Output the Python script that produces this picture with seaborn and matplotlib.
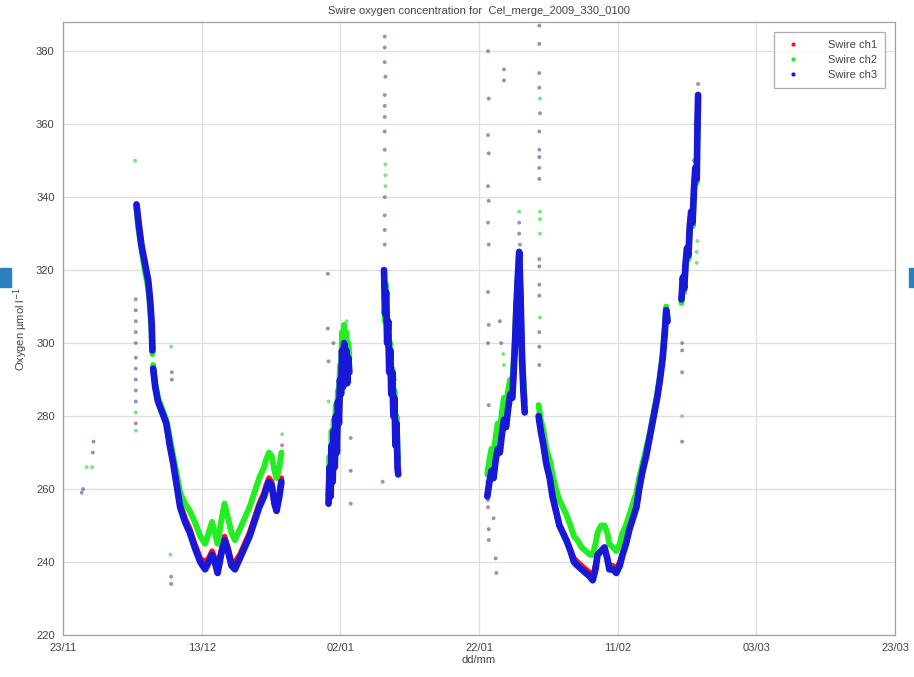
import matplotlib
matplotlib.use('Agg')
import matplotlib.pyplot as plt
from matplotlib.lines import Line2D
from matplotlib.patches import Rectangle
import seaborn as sns
import pandas as pd

# ---------------- data (days since 23/11) ----------------
channels = ['Swire ch1', 'Swire ch2', 'Swire ch3']
colors = ['#ff1010', '#22ee22', '#1818d8']
tick_days = [0, 20, 40, 60, 80, 100, 120]
tick_labels = ['23/11', '13/12', '02/01', '22/01', '11/02', '03/03', '23/03']
y_ticks = [220, 240, 260, 280, 300, 320, 340, 360, 380]

A1_days = [10.6, 10.9, 11.3, 11.8, 12.3, 12.6, 12.8, 12.9]
A1_ch1 = [338, 333, 327, 322, 317, 311, 305, 298]
A1_ch2 = [337, 331, 326, 320, 315, 309, 303, 297]
A1_ch3 = [338, 333, 327, 322, 317, 311, 305, 298]

A2_days = [13.0, 13.3, 13.7, 14.3, 14.9, 15.4, 15.9, 16.4, 16.9, 17.6, 18.3, 19.0,
           19.8, 20.5, 21.0, 21.5, 21.9, 22.3, 22.8, 23.3, 23.8, 24.3, 24.8, 25.5,
           26.2, 26.9, 27.6, 28.3, 29.0, 29.3, 29.7, 30.1, 30.5, 30.8, 31.2, 31.5]
A2_ch1 = [293, 288, 284, 281, 278, 272, 267, 261, 256, 252, 249, 245,
          241, 240, 241, 243, 241, 239, 243, 247, 244, 240, 240, 242,
          245, 248, 252, 256, 259, 261, 263, 262, 257, 255, 259, 263]
A2_ch2 = [294, 289, 285, 282, 279, 274, 269, 264, 259, 256, 254, 251,
          247, 245, 248, 251, 248, 245, 251, 256, 252, 248, 246, 249,
          252, 255, 259, 263, 266, 268, 270, 269, 265, 263, 266, 270]
A2_ch3 = [293, 288, 284, 281, 278, 272, 267, 261, 255, 251, 248, 244,
          240, 238, 240, 242, 240, 237, 242, 246, 243, 239, 238, 241,
          244, 247, 251, 255, 258, 260, 262, 261, 256, 254, 258, 262]

B_days = [38.3, 38.45, 38.6, 38.75, 38.9, 39.05, 39.2, 39.35, 39.5, 39.65, 39.8,
          39.95, 40.1, 40.25, 40.4, 40.55, 40.7, 40.85, 41.0, 41.15, 41.3]
B_ch1 = [256, 266, 258, 272, 262, 276, 266, 280, 270, 284, 278, 290, 286, 298, 288,
         300, 292, 298, 289, 296, 292]
B_ch2 = [258, 269, 262, 276, 266, 279, 270, 283, 274, 287, 282, 294, 291, 303, 294,
         305, 298, 303, 294, 300, 296]
B_ch3 = [256, 266, 258, 272, 262, 276, 266, 280, 270, 284, 278, 290, 286, 298, 288,
         300, 292, 298, 289, 296, 292]

C_days = [46.3, 46.45, 46.6, 46.75, 46.9, 47.05, 47.2, 47.35, 47.5, 47.65, 47.8,
          47.95, 48.1, 48.25, 48.35]
C_ch1 = [320, 308, 314, 300, 306, 292, 298, 286, 292, 280, 285, 272, 278, 266, 264]
C_ch2 = [318, 306, 316, 302, 304, 294, 300, 289, 293, 283, 287, 275, 280, 270, 268]
C_ch3 = [320, 308, 314, 300, 306, 292, 298, 286, 292, 280, 285, 272, 278, 266, 264]

D1_days = [61.2, 61.5, 61.8, 62.1, 62.4, 62.7, 63.0, 63.3, 63.6, 63.9, 64.2, 64.5,
           64.8, 65.0, 65.2, 65.4, 65.6, 65.8, 66.0, 66.2, 66.4, 66.6]
D1_ch1 = [258, 262, 265, 263, 268, 271, 270, 275, 279, 277, 282, 286,
          285, 292, 300, 310, 318, 325, 312, 296, 287, 281]
D1_ch2 = [264, 268, 271, 270, 274, 278, 276, 281, 285, 282, 287, 290,
          289, 295, 302, 311, 318, 324, 313, 298, 290, 284]
D1_ch3 = [258, 262, 265, 263, 268, 271, 270, 275, 279, 277, 282, 286,
          285, 292, 300, 310, 318, 325, 312, 296, 287, 281]

D2_days = [68.6, 68.9, 69.3, 69.7, 70.2, 70.6, 71.1, 71.6, 72.1, 72.6, 73.2, 73.7,
           74.2, 74.8, 75.4, 76.0, 76.4, 76.8, 77.1, 77.6, 78.1, 78.5, 78.8, 79.3,
           79.8, 80.3, 80.7, 81.2, 81.7, 82.2, 82.7, 83.1, 83.6, 84.1, 84.6, 85.1,
           85.7, 86.1, 86.5, 86.8, 87.0, 87.2]
D2_ch1 = [280, 276, 272, 267, 263, 258, 254, 250, 248, 246, 243, 241,
          240, 239, 238, 237, 236, 239, 242, 243, 244, 241, 239, 239,
          238, 240, 242, 245, 249, 252, 255, 260, 265, 269, 274, 279,
          285, 290, 296, 303, 309, 306]
D2_ch2 = [283, 279, 276, 271, 268, 264, 260, 257, 255, 253, 250, 247,
          246, 244, 243, 242, 242, 245, 248, 250, 250, 248, 245, 244,
          243, 245, 248, 250, 253, 256, 259, 263, 267, 271, 275, 280,
          286, 291, 297, 304, 310, 307]
D2_ch3 = [280, 276, 272, 267, 263, 258, 254, 250, 248, 246, 243, 240,
          239, 238, 237, 236, 235, 238, 242, 243, 244, 241, 238, 238,
          237, 239, 242, 245, 249, 252, 255, 260, 265, 269, 274, 279,
          285, 290, 296, 303, 309, 306]

E_days = [89.2, 89.4, 89.6, 89.8, 90.0, 90.2, 90.4, 90.6, 90.8, 91.0, 91.2, 91.4, 91.5, 91.6]
E_ch1 = [312, 318, 315, 322, 326, 324, 332, 336, 333, 342, 348, 345, 358, 368]
E_ch2 = [311, 317, 314, 321, 325, 323, 331, 335, 332, 341, 347, 344, 357, 367]
E_ch3 = [312, 318, 315, 322, 326, 324, 332, 336, 333, 342, 348, 345, 358, 368]

# scattered single readings (spikes / isolated samples)
out1_days = [2.7, 4.4, 10.5, 10.5, 10.5, 10.5, 10.5, 10.5, 15.7, 15.6, 31.6, 38.2, 38.3,
             41.5, 41.5, 46.4, 46.4, 46.4, 46.4, 46.4, 46.4, 46.4, 46.1, 61.3, 61.3, 61.3,
             61.3, 61.3, 61.3, 61.2, 61.3, 61.4, 62.5, 62.1, 63.6, 63.2, 65.8, 65.9, 68.7,
             68.7, 68.8, 68.7, 68.7, 68.7, 68.7, 68.7, 68.7, 89.3, 89.3, 91.0, 91.6]
out1_vals = [259, 273, 312, 306, 300, 293, 287, 278, 292, 236, 272, 319, 295,
             274, 256, 384, 377, 368, 362, 353, 335, 327, 262, 380, 357, 343,
             333, 314, 300, 262, 255, 246, 237, 252, 375, 300, 333, 327, 387,
             374, 363, 353, 348, 323, 316, 303, 294, 300, 292, 350, 371]
out2_days = [3.4, 4.2, 10.4, 10.5, 10.5, 15.6, 15.5, 31.6, 38.3, 40.9, 46.5, 46.5, 46.5,
             47.9, 48.0, 63.5, 63.6, 65.8, 65.8, 68.8, 68.8, 68.8, 68.8, 68.8, 89.3,
             91.4, 91.4, 91.5]
out2_vals = [266, 266, 350, 281, 276, 299, 242, 275, 284, 306, 349, 346, 343,
             290, 286, 297, 294, 336, 324, 367, 336, 334, 330, 307, 280,
             322, 325, 328]
out3_days = [2.9, 4.3, 10.5, 10.5, 10.5, 10.5, 10.5, 15.7, 15.6, 38.2, 39.0, 41.5,
             46.4, 46.5, 46.4, 46.4, 46.4, 46.4, 61.4, 61.4, 61.4, 61.4, 61.4, 61.4,
             61.2, 61.3, 61.4, 62.4, 63.6, 63.0, 65.8, 65.9, 68.7, 68.7, 68.7, 68.7,
             68.7, 68.7, 68.7, 68.7, 89.3, 89.3, 91.2]
out3_vals = [260, 270, 309, 303, 296, 290, 284, 290, 234, 304, 300, 265,
             381, 373, 365, 358, 340, 331, 367, 352, 339, 327, 305, 283,
             266, 257, 249, 241, 372, 306, 330, 321, 382, 370, 358, 351,
             345, 321, 313, 299, 298, 273, 360]

# ---------------- build tables ----------------
segments = {
    'A1': (A1_days, A1_ch1, A1_ch2, A1_ch3),
    'A2': (A2_days, A2_ch1, A2_ch2, A2_ch3),
    'B': (B_days, B_ch1, B_ch2, B_ch3),
    'C': (C_days, C_ch1, C_ch2, C_ch3),
    'D1': (D1_days, D1_ch1, D1_ch2, D1_ch3),
    'D2': (D2_days, D2_ch1, D2_ch2, D2_ch3),
    'E': (E_days, E_ch1, E_ch2, E_ch3),
}
rows = []
for seg, (d, c1, c2, c3) in segments.items():
    for ch, vals in zip(channels, (c1, c2, c3)):
        for x, y in zip(d, vals):
            rows.append((seg, ch, x, y))
df = pd.DataFrame(rows, columns=['seg', 'channel', 'day', 'value'])

orows = []
for ch, dd, vv in zip(channels, (out1_days, out2_days, out3_days), (out1_vals, out2_vals, out3_vals)):
    for x, y in zip(dd, vv):
        orows.append((ch, x, y))
odf = pd.DataFrame(orows, columns=['channel', 'day', 'value'])

# ---------------- plot ----------------
sns.set_theme(style='white')
plt.rcParams['font.family'] = ['Liberation Sans', 'DejaVu Sans']
fig = plt.figure(figsize=(9.14, 6.77), dpi=100)
ax = fig.add_axes([63 / 914, 42 / 677, 832 / 914, 613 / 677])

palette = dict(zip(channels, colors))
scatter_cols = {'Swire ch1': '#8a5a8a', 'Swire ch2': '#44dd44', 'Swire ch3': '#6060a8'}
sns.scatterplot(data=odf, x='day', y='value', hue='channel', hue_order=channels,
                palette=scatter_cols, s=8, linewidth=0, alpha=0.7, legend=False, ax=ax)

widths = {'Swire ch1': 4.0, 'Swire ch2': 4.3, 'Swire ch3': 4.8}
for ch in channels:
    sns.lineplot(data=df[df['channel'] == ch], x='day', y='value', units='seg',
                 estimator=None, sort=False, color=palette[ch],
                 linewidth=widths[ch], legend=False, ax=ax)

ax.set_xlim(0, 120)
ax.set_ylim(220, 388)
ax.set_xticks(tick_days)
ax.set_xticklabels(tick_labels)
ax.set_yticks(y_ticks)
ax.grid(True, color='#dedede', linewidth=0.9)
ax.set_axisbelow(True)
for sp in ax.spines.values():
    sp.set_color('#a0a0a0')
    sp.set_linewidth(0.9)
ax.tick_params(direction='in', length=3, labelsize=8, colors='#444444', pad=6)

ax.set_title('Swire oxygen concentration for  Cel_merge_2009_330_0100',
             fontsize=8, color='#444444', pad=6)
ax.set_xlabel('dd/mm', fontsize=8, color='#444444', labelpad=1)
ax.set_ylabel('Oxygen µmol l$^{-1}$', fontsize=8, color='#444444', labelpad=4)

handles = [Line2D([], [], marker='.', linestyle='none', color=c, markersize=4) for c in colors]
leg = ax.legend(handles, channels, loc='upper right', fontsize=8, frameon=True,
                fancybox=False, edgecolor='#9a9a9a', borderaxespad=0.9,
                handletextpad=2.2, labelspacing=0.45, borderpad=0.7)
for t in leg.get_texts():
    t.set_color('#444444')
leg.get_frame().set_linewidth(0.9)

# edge markers seen in the screenshot
fig.add_artist(Rectangle((0, (677 - 287) / 677), 11 / 914, 19 / 677,
                         transform=fig.transFigure, color='#2b80c0', zorder=5))
fig.add_artist(Rectangle((909 / 914, (677 - 287) / 677), 5 / 914, 19 / 677,
                         transform=fig.transFigure, color='#2b80c0', zorder=5))

fig.savefig('out.png', dpi=100)
